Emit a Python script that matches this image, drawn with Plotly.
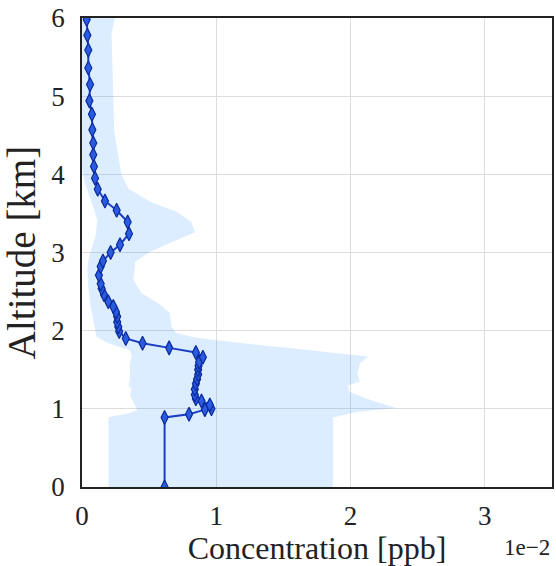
import plotly.graph_objects as go

# Altitude [km] and concentration [ppb x 1e-2] of the mean profile
altitude_km = [0.0, 0.89, 0.93, 0.99, 1.00, 1.05, 1.10, 1.13, 1.18, 1.25, 1.32, 1.38, 1.44,
               1.50, 1.55, 1.60, 1.66, 1.72, 1.78, 1.84, 1.90, 1.99, 2.05, 2.11, 2.18, 2.24,
               2.31, 2.37, 2.46, 2.54, 2.60, 2.71, 2.82, 2.89, 3.00, 3.10, 3.24, 3.39, 3.54,
               3.66, 3.81, 3.95, 4.10, 4.25, 4.40, 4.57, 4.77, 4.94, 5.15, 5.36, 5.59, 5.78, 5.98]
conc_e2 = [0.615, 0.615, 0.797, 0.915, 0.964, 0.952, 0.89, 0.848, 0.84, 0.84, 0.848, 0.857, 0.865,
           0.865, 0.868, 0.872, 0.90, 0.848, 0.649, 0.451, 0.326, 0.277, 0.27, 0.262, 0.262, 0.253,
           0.233, 0.196, 0.164, 0.146, 0.139, 0.126, 0.139, 0.156, 0.213, 0.283, 0.35, 0.34, 0.258,
           0.171, 0.117, 0.097, 0.089, 0.084, 0.084, 0.077, 0.074, 0.055, 0.06, 0.047, 0.047, 0.04, 0.035]

# Lower bound of the spread band (bottom to top)
low_alt = [0.0, 0.89, 0.90, 0.94, 0.98, 1.03, 1.09, 1.18, 1.26, 1.30, 1.37, 1.58, 1.67, 1.75,
           1.84, 1.92, 2.00, 2.13, 2.35, 2.56, 2.77, 2.88, 2.99, 3.20, 3.41, 3.55, 3.75, 3.90,
           4.20, 6.0]
low_x = [0.197, 0.197, 0.21, 0.345, 0.41, 0.40, 0.38, 0.357, 0.37, 0.345, 0.357, 0.357, 0.37, 0.357,
         0.196, 0.11, 0.10, 0.084, 0.06, 0.047, 0.04, 0.045, 0.06, 0.10, 0.115, 0.09, 0.05, 0.02,
         -0.01, -0.02]

# Upper bound of the spread band (top to bottom)
high_alt = [6.0, 5.8, 5.5, 5.0, 4.54, 3.99, 3.82, 3.65, 3.52, 3.39, 3.26, 3.14, 3.01, 2.88,
            2.82, 2.65, 2.48, 2.35, 2.23, 2.05, 1.97, 1.91, 1.82, 1.75, 1.67, 1.58, 1.45, 1.35,
            1.30, 1.22, 1.13, 1.01, 0.96, 0.89, 0.0]
high_x = [0.245, 0.22, 0.225, 0.235, 0.24, 0.295, 0.345, 0.506, 0.704, 0.815, 0.84, 0.68, 0.506, 0.394,
          0.394, 0.382, 0.444, 0.567, 0.654, 0.667, 0.70, 0.85, 1.3, 1.7, 2.13, 2.07, 2.05, 2.07,
          1.98, 1.99, 2.12, 2.34, 2.04, 1.87, 1.87]

x_ticks = [0, 1, 2, 3]
y_ticks = [0, 1, 2, 3, 4, 5, 6]

FONT = "Liberation Serif"

fig = go.Figure()
fig.add_trace(go.Scatter(
    x=low_x + high_x, y=low_alt + high_alt,
    fill="toself", fillcolor="rgba(30,144,255,0.16)",
    line=dict(width=0), mode="lines", hoverinfo="skip", showlegend=False))
fig.add_trace(go.Scatter(
    x=conc_e2, y=altitude_km, mode="lines+markers",
    line=dict(color="#1a3fc4", width=2),
    marker=dict(symbol="diamond-tall", size=10, color="#2a5be0",
                line=dict(color="#0b2a9c", width=1.2)),
    showlegend=False))

fig.update_layout(
    width=556, height=566,
    margin=dict(l=82, r=4, t=18, b=79),
    paper_bgcolor="white", plot_bgcolor="white",
    font=dict(family=FONT, color="#222222", size=27),
    xaxis=dict(range=[0, 3.5], tickvals=x_ticks, ticktext=[str(v) for v in x_ticks],
               showgrid=True, gridcolor="#dddddd", gridwidth=1, zeroline=False,
               showline=True, linecolor="#222222", linewidth=1.5, mirror=True,
               ticks="", ticklabelstandoff=4, automargin=False,
               title=dict(text="Concentration [ppb]", font=dict(size=32, family=FONT), standoff=6),
               tickfont=dict(size=27, family=FONT)),
    yaxis=dict(range=[0, 6], tickvals=y_ticks, ticktext=[str(v) for v in y_ticks],
               showgrid=True, gridcolor="#dddddd", gridwidth=1, zeroline=False,
               showline=True, linecolor="#222222", linewidth=1.5, mirror=True,
               ticks="", ticklabelstandoff=10, automargin=False,
               title=dict(text="Altitude [km]", font=dict(size=39, family=FONT), standoff=6),
               tickfont=dict(size=27, family=FONT)),
    annotations=[dict(text="1e\u22122", xref="paper", yref="paper", x=1.0, y=-0.128,
                      xanchor="right", yanchor="middle", showarrow=False,
                      font=dict(size=23, family=FONT, color="#222222"))],
)

fig.write_html("out.html", config={"displayModeBar": False},
               post_script="document.body.style.margin='0';document.body.style.overflow='hidden';")
